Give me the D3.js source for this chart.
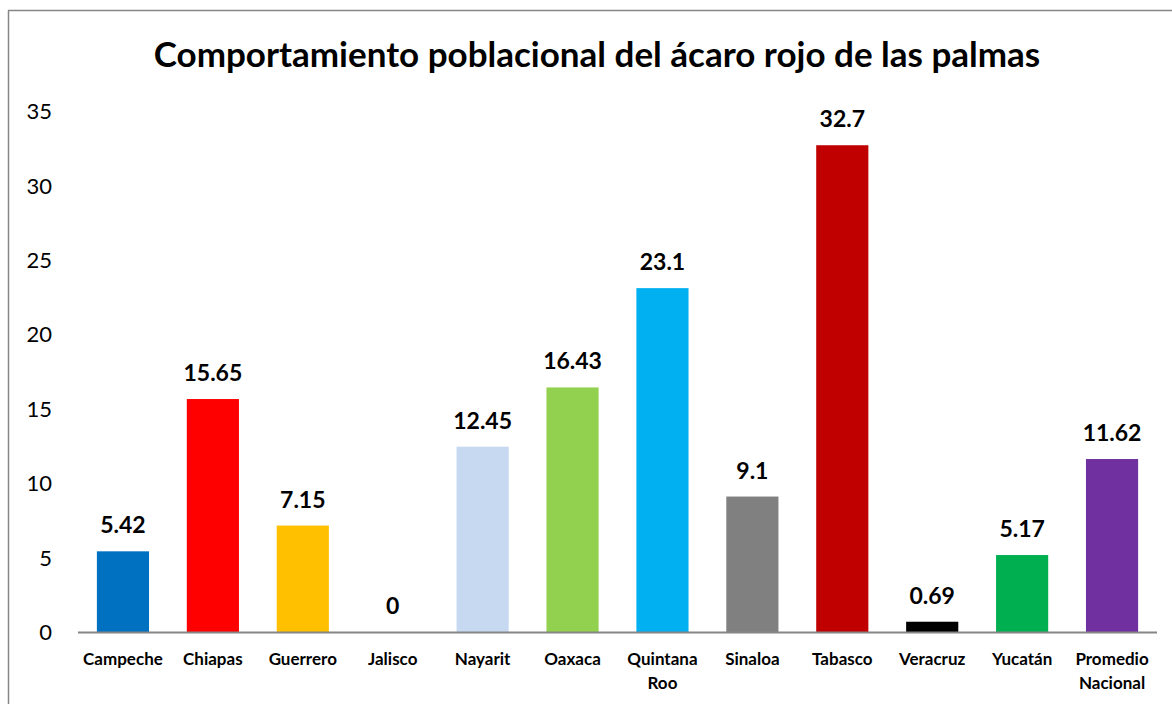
<!DOCTYPE html>
<html>
<head>
<meta charset="utf-8">
<script src="https://cdn.jsdelivr.net/npm/d3@7"></script>
<style>
  body { margin: 0; background: #fff; }
  svg text { font-family: Lato, "Open Sans", sans-serif; fill: #000; }
</style>
</head>
<body>
<div id="chart-container"></div>
<script>
var estados = ['Campeche', 'Chiapas', 'Guerrero', 'Jalisco', 'Nayarit', 'Oaxaca', 'Quintana Roo', 'Sinaloa', 'Tabasco', 'Veracruz', 'Yucatán', 'Promedio Nacional']
var valores = [5.42, 15.65, 7.15, 0, 12.45, 16.43, 23.1, 9.1, 32.7, 0.69, 5.17, 11.62]
var colores = ['#0070c0', '#ff0000', '#ffc000', '#4f81bd', '#c6d9f1', '#92d050', '#00b0f0', '#808080', '#c00000', '#000000', '#00b050', '#7030a0']
var yTicks = [0, 5, 10, 15, 20, 25, 30, 35]

var width = 1172
var height = 704
var margin = {top: 111, right: 15, bottom: 72, left: 78}

var svg = d3.select("#chart-container").append("svg").attr("width", width).attr("height", height)

// marco del area del grafico
svg.append("line").attr("x1", 8.5).attr("x2", 8.5).attr("y1", 10.5).attr("y2", height).attr("stroke", "#868686").attr("stroke-width", 1.5)
svg.append("line").attr("x1", 8).attr("x2", width).attr("y1", 10.5).attr("y2", 10.5).attr("stroke", "#868686").attr("stroke-width", 1.5)

svg.append("text").attr("x", 597).attr("y", 67).attr("text-anchor", "middle")
  .style("font-size", "35px").style("font-weight", "bold")
  .text("Comportamiento poblacional del ácaro rojo de las palmas")

var x = d3.scaleBand().domain(estados).range([margin.left, width - margin.right]).paddingInner(0.42).paddingOuter(0.21)
var y = d3.scaleLinear().domain([0, 35]).range([height - margin.bottom, margin.top])

var yAxis = svg.append("g").attr("transform", "translate(" + (margin.left - 20) + ",0)")
  .call(d3.axisLeft(y).tickValues(yTicks).tickSize(0).tickPadding(6))
yAxis.select(".domain").remove()
yAxis.selectAll("text").style("font-size", "22px").attr("dy", "0.35em")

svg.selectAll(".bar").data(valores).enter().append("rect").attr("class", "bar")
  .attr("x", function(d, i) { return x(estados[i]) })
  .attr("width", x.bandwidth())
  .attr("y", function(d) { return y(d) })
  .attr("height", function(d) { return y(0) - y(d) })
  .attr("fill", function(d, i) { return colores[i] })

svg.selectAll(".etiqueta").data(valores).enter().append("text").attr("class", "etiqueta")
  .attr("x", function(d, i) { return x(estados[i]) + x.bandwidth() / 2 })
  .attr("y", function(d) { return y(d) - 18 })
  .attr("text-anchor", "middle")
  .style("font-size", "23px").style("font-weight", "bold")
  .text(function(d) { return d })

svg.append("line").attr("x1", margin.left).attr("x2", width - margin.right)
  .attr("y1", y(0) + 0.5).attr("y2", y(0) + 0.5).attr("stroke", "#868686").attr("stroke-width", 2)

var xAxis = svg.append("g").attr("transform", "translate(0," + y(0) + ")")
  .call(d3.axisBottom(x).tickSize(0).tickFormat(""))
xAxis.select(".domain").remove()

estados.forEach(function(est, i) {
  var partes = est.split(' ')
  var t = svg.append("text").attr("x", x(est) + x.bandwidth() / 2).attr("y", 665)
    .attr("text-anchor", "middle").style("font-size", "17px").style("font-weight", "bold")
  partes.forEach(function(p, j) {
    t.append("tspan").attr("x", x(est) + x.bandwidth() / 2).attr("dy", j == 0 ? 0 : 24).text(p)
  })
})
</script>
</body>
</html>
